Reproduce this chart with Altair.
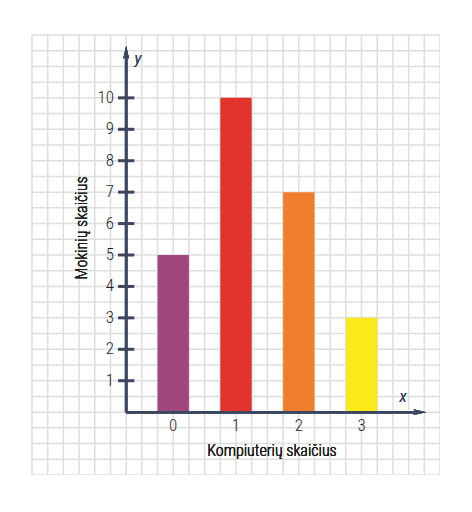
import altair as alt
import numpy as np
import pandas as pd

# Data
computers = [0, 1, 2, 3]
students = [5, 10, 7, 3]
bar_colors = ["#a0477e", "#e2332c", "#f07f2d", "#fbe91a"]
y_ticks = [1, 2, 3, 4, 5, 6, 7, 8, 9, 10]
x_labels = ["0", "1", "2", "3"]
x_title = "Kompiuterių skaičius"
y_title = "Mokinių skaičius"

FONT = "Roboto Condensed, DejaVu Sans Condensed, Liberation Sans Narrow, Roboto, sans-serif"
AXIS_COLOR = "#3b4660"
TEXT_COLOR = "#1e1e1e"
GRID_COLOR = "#dedede"
W = 300

X_MIN, X_MAX = -2.25, 4.25
Y_MIN, Y_MAX = -2, 12

bars_df = pd.DataFrame({"k": computers, "n": students, "c": bar_colors, "lab": x_labels})
ticks_df = pd.DataFrame({"t": y_ticks})
vgrid_df = pd.DataFrame({"g": np.arange(X_MIN, X_MAX + 0.001, 0.25)})
hgrid_df = pd.DataFrame({"g": np.arange(Y_MIN, Y_MAX + 0.001, 0.5)})

xs = alt.Scale(domain=[X_MIN, X_MAX], nice=False, zero=False)
ys = alt.Scale(domain=[Y_MIN, Y_MAX], nice=False, zero=False)

AX_X = -0.75  # where the y axis crosses

vgrid = alt.Chart(vgrid_df).mark_rule(color=GRID_COLOR, strokeWidth=1.5).encode(
    x=alt.X("g:Q", scale=xs), y=alt.datum(Y_MIN, scale=ys), y2=alt.datum(Y_MAX)
)
hgrid = alt.Chart(hgrid_df).mark_rule(color=GRID_COLOR, strokeWidth=1.5).encode(
    y=alt.Y("g:Q", scale=ys), x=alt.datum(X_MIN), x2=alt.datum(X_MAX)
)

base = alt.Chart(bars_df)

bars = base.transform_calculate(
    x0="datum.k - 0.25", x1="datum.k + 0.25"
).mark_bar().encode(
    x=alt.X("x0:Q", scale=xs),
    x2="x1:Q",
    y=alt.Y("n:Q", scale=ys),
    y2=alt.datum(0),
    color=alt.Color("c:N", scale=None),
)

y_axis_line = base.mark_rule(color=AXIS_COLOR, strokeWidth=2.5).encode(
    x=alt.datum(AX_X), y=alt.datum(0), y2=alt.datum(11.4)
)
x_axis_line = base.mark_rule(color=AXIS_COLOR, strokeWidth=2.5).encode(
    y=alt.datum(0), x=alt.datum(AX_X), x2=alt.datum(3.85)
)

up_arrow = base.mark_point(
    shape="M0,-1L0.45,1L0,0.6L-0.45,1Z", filled=True, size=170, opacity=1,
    color=AXIS_COLOR
).encode(x=alt.datum(AX_X), y=alt.datum(11.45))

right_arrow = base.mark_point(
    shape="M1,0L-1,0.45L-0.6,0L-1,-0.45Z", filled=True, size=170, opacity=1,
    color=AXIS_COLOR
).encode(x=alt.datum(3.93), y=alt.datum(0))

y_tick_marks = alt.Chart(ticks_df).mark_rule(color=AXIS_COLOR, strokeWidth=3).encode(
    y=alt.Y("t:Q", scale=ys), x=alt.datum(AX_X - 0.13), x2=alt.datum(AX_X + 0.13)
)

y_tick_labels = alt.Chart(ticks_df).mark_text(
    align="right", baseline="middle", dx=-12, font=FONT, fontSize=17, fontWeight=W,
    color=TEXT_COLOR
).encode(y=alt.Y("t:Q", scale=ys), x=alt.datum(AX_X), text="t:Q")

x_tick_labels = base.mark_text(
    align="center", baseline="middle", dy=14, font=FONT, fontSize=17, fontWeight=W,
    color=TEXT_COLOR
).encode(x=alt.X("k:Q", scale=xs), y=alt.datum(0), text="lab:N")

x_title_mark = base.mark_text(
    text=x_title, align="center", baseline="middle", font=FONT, fontSize=16,
    fontWeight=W, color=TEXT_COLOR
).encode(x=alt.value(240), y=alt.value(416))

y_title_mark = base.mark_text(
    text=y_title, align="center", baseline="middle", angle=270, font=FONT, fontSize=16,
    fontWeight=W, color=TEXT_COLOR
).encode(x=alt.value(50), y=alt.value(193))

y_letter = base.mark_text(
    text="y", align="center", baseline="middle", font=FONT, fontSize=17, fontStyle="italic",
    fontWeight=W, color=AXIS_COLOR
).encode(x=alt.value(106), y=alt.value(24))

x_letter = base.mark_text(
    text="x", align="center", baseline="middle", font=FONT, fontSize=17, fontStyle="italic",
    fontWeight=W, color=AXIS_COLOR
).encode(x=alt.value(371), y=alt.value(362))

chart = alt.layer(
    vgrid, hgrid, bars, y_axis_line, x_axis_line, up_arrow, right_arrow, y_tick_marks,
    y_tick_labels, x_tick_labels, x_title_mark, y_title_mark, y_letter, x_letter
).properties(
    width=408, height=440,
    padding={"left": 24, "top": 27, "right": 0, "bottom": 0},
    autosize=alt.AutoSizeParams(type="none"),
).configure_view(stroke=None).configure_axis(
    domain=False, ticks=False, labels=False, grid=False, title=None
)

chart.save("out.html", embed_options={"renderer": "svg", "actions": False})
